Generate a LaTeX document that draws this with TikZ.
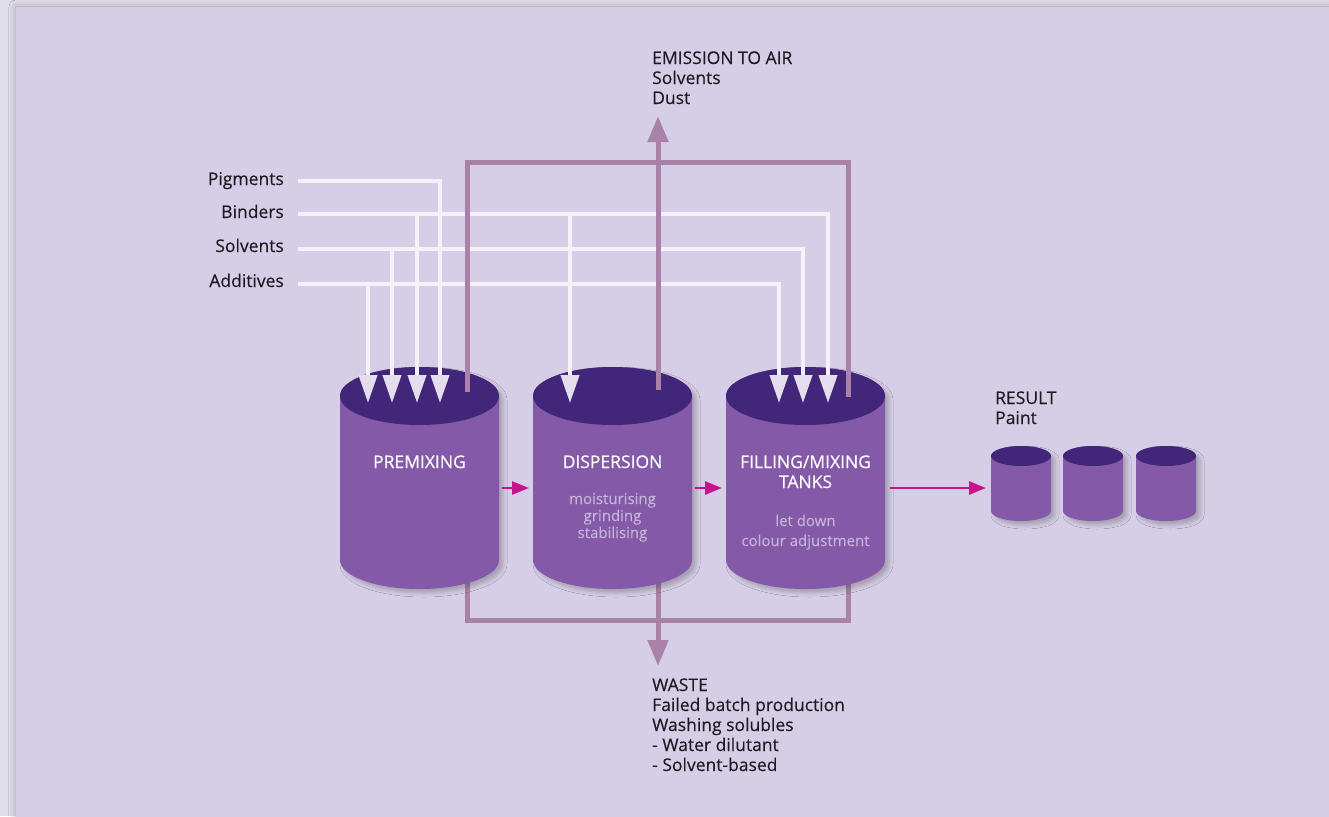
\documentclass[tikz,border=0pt]{standalone}
\usepackage{fontspec}
\setmainfont{Open Sans}[FakeBold=0.25]
\usetikzlibrary{arrows.meta,shadows.blur}

\definecolor{outerbg}{HTML}{E0DEE9}
\definecolor{panelbg}{HTML}{D6CEE6}
\definecolor{tanktop}{HTML}{42267A}
\definecolor{tankside}{HTML}{8359A8}
\definecolor{loopline}{HTML}{A882A8}
\definecolor{flowmag}{HTML}{C8148C}
\definecolor{feedline}{HTML}{F4F1F8}
\definecolor{feedhead}{HTML}{E4DDEE}
\definecolor{subtext}{HTML}{C5B3DA}
\definecolor{ink}{HTML}{1E1A22}

% tank: centre x, top y, bottom y, x radius, y radius
\newcommand\drawtank[5]{%
  \fill[tankside, blur shadow={shadow xshift=4pt, shadow yshift=-4pt, shadow blur radius=4pt, shadow opacity=22}]
    (#1-#4,#2) arc[start angle=180, end angle=360, x radius=#4, y radius=#5]
    -- (#1+#4,#3) arc[start angle=0, end angle=180, x radius=#4, y radius=#5] -- cycle;
  \fill[tanktop] (#1,#2) ellipse[x radius=#4, y radius=#5];
}

\begin{document}
\begin{tikzpicture}[x=1pt, y=-1pt,
  lbl/.style={font=\fontsize{17.5}{20}\selectfont, text=ink, inner sep=0pt},
  tanklbl/.style={font=\fontsize{17.5}{20}\selectfont, text=white, inner sep=0pt, anchor=base},
  tanksub/.style={font=\fontsize{15}{18}\selectfont, text=subtext, inner sep=0pt, anchor=base},
  feed/.style={draw=feedline, line width=4pt, line join=miter},
  feedarrow/.style={feed, -{Triangle[width=18pt, length=28pt, color=feedhead]}},
  loopl/.style={draw=loopline, line width=5pt, line join=miter},
  looparrow/.style={loopl, -{Triangle[width=20pt, length=26pt]}},
  flow/.style={draw=flowmag, line width=2.5pt, -{Triangle[width=13pt, length=17pt]}}]

\useasboundingbox (0,0) rectangle (1329,816);
\fill[outerbg] (0,0) rectangle (1329,816);
\fill[panelbg, blur shadow={shadow xshift=0pt, shadow yshift=0pt, shadow blur radius=7pt, shadow opacity=28}]
  (16,7) rectangle (1345,830);

% connection points
\coordinate (pigS) at (298,181);
\coordinate (binS) at (298,214);
\coordinate (solS) at (298,249);
\coordinate (addS) at (298,284);
\coordinate (addP) at (368,403);
\coordinate (solP) at (392,403);
\coordinate (binP) at (417,403);
\coordinate (pigP) at (440,403);
\coordinate (binD) at (570,403);
\coordinate (addF) at (779,403);
\coordinate (solF) at (803,403);
\coordinate (binF) at (828,403);

\coordinate (pmOut) at (467,392);
\coordinate (dpOut) at (658,390);
\coordinate (ftOut) at (848,397);
\coordinate (topJ)  at (658,162);
\coordinate (emit)  at (658,116);

\coordinate (pmIn) at (467,575);
\coordinate (dpIn) at (658,575);
\coordinate (ftIn) at (848,575);
\coordinate (botJ) at (658,620);
\coordinate (waste) at (658,666);

% waste collection runs behind the tanks
\draw[loopl] (pmIn) |- (botJ) -| (ftIn);
\draw[looparrow] (dpIn) -- (waste);

% process tanks
\drawtank{419.5}{396}{560}{79.5}{29}
\drawtank{612.5}{396}{560}{79.5}{29}
\drawtank{805.5}{396}{560}{79.5}{29}

% paint cans
\drawtank{1021}{456}{511}{30}{10}
\drawtank{1093}{456}{511}{30}{10}
\drawtank{1166}{456}{511}{30}{10}

% raw material feeds
\draw[feedarrow] (binS) -| (binF);
\draw[feedarrow] (solS) -| (solF);
\draw[feedarrow] (addS) -| (addF);
\draw[feedarrow] (binS) -| (binD);
\draw[feedarrow] (pigS) -| (pigP);
\draw[feedarrow] (binS) -| (binP);
\draw[feedarrow] (solS) -| (solP);
\draw[feedarrow] (addS) -| (addP);

% exhaust collection
\draw[loopl] (pmOut) |- (topJ) -| (ftOut);
\draw[looparrow] (dpOut) -- (emit);

% product flow
\coordinate (m1s) at (502,488); \coordinate (m1e) at (529,488);
\coordinate (m2s) at (695,488); \coordinate (m2e) at (722,488);
\coordinate (m3s) at (890,488); \coordinate (m3e) at (986,488);
\draw[flow] (m1s) -- (m1e);
\draw[flow] (m2s) -- (m2e);
\draw[flow] (m3s) -- (m3e);

% input labels
\node[lbl, anchor=base east] (pig) at (284,185) {Pigments};
\node[lbl, anchor=base east] (bin) at (284,218) {Binders};
\node[lbl, anchor=base east] (sol) at (284,252) {Solvents};
\node[lbl, anchor=base east] (add) at (284,287) {Additives};

% emission
\node[lbl, anchor=base west] (em1) at (652,64) {EMISSION TO AIR};
\node[lbl, anchor=base west] (em2) at (652,84) {Solvents};
\node[lbl, anchor=base west] (em3) at (652,104) {Dust};

% waste
\node[lbl, anchor=base west] (w1) at (652,691) {WASTE};
\node[lbl, anchor=base west] (w2) at (652,711) {Failed batch production};
\node[lbl, anchor=base west] (w3) at (652,731) {Washing solubles};
\node[lbl, anchor=base west] (w4) at (652,751) {- Water dilutant};
\node[lbl, anchor=base west] (w5) at (652,771) {- Solvent-based};

% result
\node[lbl, anchor=base west] (r1) at (995,404) {RESULT};
\node[lbl, anchor=base west] (r2) at (995,424) {Paint};

% tank labels
\node[tanklbl] (pmT) at (419.5,468) {PREMIXING};
\node[tanklbl] (dpT) at (612.5,468) {DISPERSION};
\node[tanksub] (dp1) at (612.5,504) {moisturising};
\node[tanksub] (dp2) at (612.5,521) {grinding};
\node[tanksub] (dp3) at (612.5,538) {stabilising};
\node[tanklbl] (ftT1) at (805.5,468) {FILLING/MIXING};
\node[tanklbl] (ftT2) at (805.5,488) {TANKS};
\node[tanksub] (ft1) at (805.5,526) {let down};
\node[tanksub] (ft2) at (805.5,546) {colour adjustment};
\end{tikzpicture}
\end{document}
